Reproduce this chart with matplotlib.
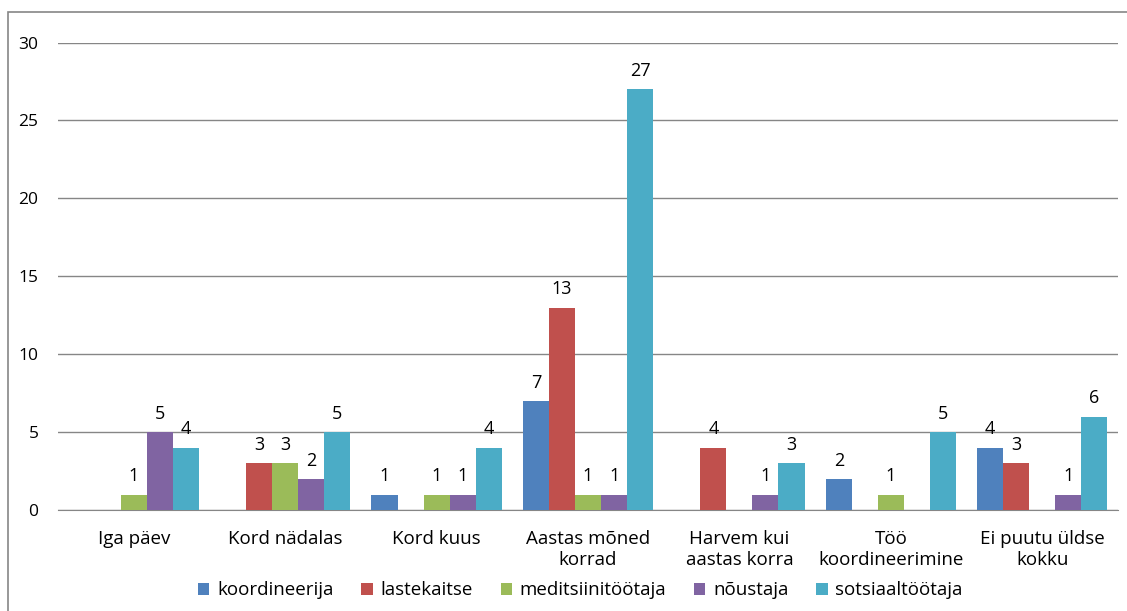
import matplotlib.pyplot as plt
import numpy as np
from matplotlib.patches import Rectangle

categories = ['Iga päev', 'Kord nädalas', 'Kord kuus', 'Aastas mõned\nkorrad',
              'Harvem kui\naastas korra', 'Töö\nkoordineerimine', 'Ei puutu üldse\nkokku']
series_names = ['koordineerija', 'lastekaitse', 'meditsiinitöötaja', 'nõustaja', 'sotsiaaltöötaja']
koordineerija = [0, 0, 1, 7, 0, 2, 4]
lastekaitse = [0, 3, 0, 13, 4, 0, 3]
meditsiinitootaja = [1, 3, 1, 1, 0, 1, 0]
noustaja = [5, 2, 1, 1, 1, 0, 1]
sotsiaaltootaja = [4, 5, 4, 27, 3, 5, 6]
colors = ['#4F81BD', '#C0504D', '#9BBB59', '#8064A2', '#4BACC6']

plt.rcParams['font.family'] = ['Open Sans', 'DejaVu Sans']

fig = plt.figure(figsize=(11.27, 6.11), dpi=100)
ax = fig.add_axes([0.0515, 0.165, 0.9405, 0.7654])

x = np.arange(len(categories))
w = 0.172
data = [koordineerija, lastekaitse, meditsiinitootaja, noustaja, sotsiaaltootaja]
for i, (vals, name, c) in enumerate(zip(data, series_names, colors)):
    pos = x + (i - 2) * w
    bars = ax.bar(pos, vals, w, color=c, label=name, zorder=3)
    for b, v in zip(bars, vals):
        if v > 0:
            ax.text(b.get_x() + b.get_width() / 2, v + 0.6, str(v), ha='center',
                    va='bottom', fontsize=13, color='#000000')

ax.set_xlim(-0.5, len(categories) - 0.5)
ax.set_ylim(0, 30)
ax.set_yticks(range(0, 31, 5))
ax.set_xticks(x)
ax.set_xticklabels(categories, fontsize=13.5, linespacing=1.25)
ax.tick_params(axis='y', labelsize=12.5, length=0, pad=14)
ax.tick_params(axis='x', length=0, pad=14)
ax.grid(axis='y', color='#868686', linewidth=1, zorder=0)
for s in ['top', 'right', 'left']:
    ax.spines[s].set_visible(False)
ax.spines['bottom'].set_color('#868686')

fig.legend(loc='center', bbox_to_anchor=(0.515, 0.034), ncol=5, frameon=False,
           fontsize=13.5, handlelength=0.6, handleheight=0.6, handletextpad=0.4,
           columnspacing=1.5)

fig.patches.append(Rectangle((8 / 1127, -0.1), 1.2, 1 - 12 / 611 + 0.1,
                             transform=fig.transFigure, fill=False,
                             edgecolor='#868686', linewidth=1.2))

plt.savefig('out.png', dpi=100)
